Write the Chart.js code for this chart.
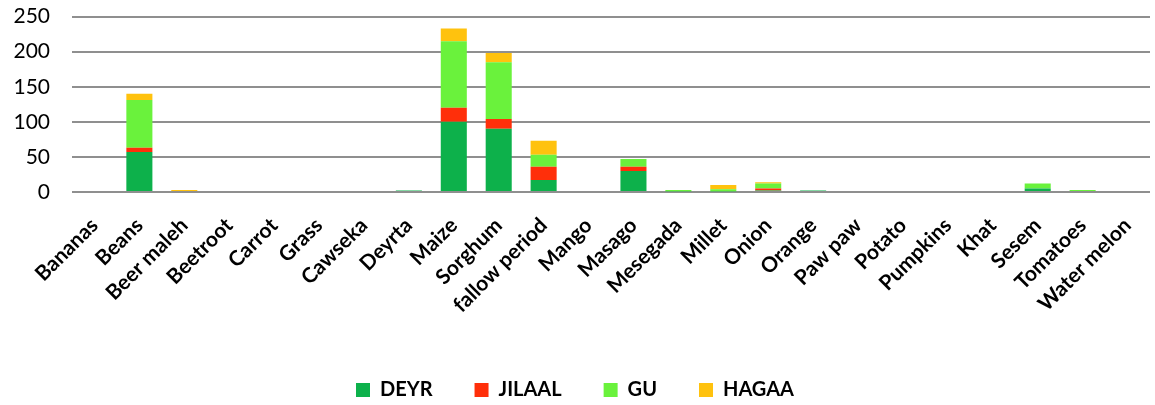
<!DOCTYPE html>
<html>
<head>
<meta charset="utf-8">
<script src="https://cdn.jsdelivr.net/npm/chart.js@4"></script>
<style>
  html, body { margin: 0; padding: 0; background: #ffffff; }
  #wrap { width: 1155px; height: 405px; }
</style>
</head>
<body>
<div id="wrap"><canvas id="chart" width="1155" height="405"></canvas></div>
<script>
// Crops and counts per season
const crops = ["Bananas", "Beans", "Beer maleh", "Beetroot", "Carrot", "Grass", "Cawseka", "Deyrta",
  "Maize", "Sorghum", "fallow period", "Mango", "Masago", "Mesegada", "Millet", "Onion", "Orange",
  "Paw paw", "Potato", "Pumpkins", "Khat", "Sesem", "Tomatoes", "Water melon"];

const deyr   = [0, 57, 0, 0, 0, 0, 0, 2, 100, 90, 17, 0, 30, 1, 1, 2, 2, 0, 0, 0, 0, 5, 0, 0];
const jilaal = [0,  6, 0, 0, 0, 0, 0, 0,  20, 14, 19, 0,  6, 0, 0, 3, 0, 0, 0, 0, 0, 0, 0, 0];
const gu     = [0, 68, 0, 0, 0, 0, 0, 0,  95, 81, 17, 0, 11, 2, 3, 7, 0, 0, 0, 0, 0, 7, 3, 0];
const hagaa  = [0,  9, 3, 0, 0, 0, 0, 0,  18, 13, 20, 0,  0, 0, 6, 2, 0, 0, 0, 0, 0, 0, 0, 0];

const yTicks = [0, 50, 100, 150, 200, 250];

const seasonNames  = ["DEYR", "JILAAL", "GU", "HAGAA"];
const seasonColors = ["#0db14b", "#ff2f0a", "#6af23c", "#ffc20e"];
const seasonData   = [deyr, jilaal, gu, hagaa];

const datasets = seasonNames.map((name, i) => ({
  label: name,
  data: seasonData[i],
  backgroundColor: seasonColors[i],
  borderWidth: 0,
  barPercentage: 0.58,
  categoryPercentage: 1.0
}));

new Chart(document.getElementById("chart"), {
  type: "bar",
  data: { labels: crops, datasets },
  options: {
    responsive: false,
    animation: false,
    devicePixelRatio: 1,
    layout: { padding: { top: 0, right: 5, left: 0, bottom: -5 } },
    plugins: {
      tooltip: { enabled: false },
      legend: {
        position: "bottom",
        labels: {
          boxWidth: 14,
          boxHeight: 14,
          padding: 42,
          color: "#000",
          font: { family: "Lato", size: 20, weight: "bold" }
        }
      }
    },
    scales: {
      x: {
        stacked: true,
        // invisible tick marks keep the label gap without widening the side padding
        grid: { display: false, drawTicks: true, tickLength: 17 },
        border: { display: false },
        ticks: {
          color: "#000",
          autoSkip: false,
          minRotation: 45,
          maxRotation: 45,
          padding: 4,
          font: { family: "Lato", size: 21, weight: "bold" }
        },
        afterFit: (scale) => { scale.height = 146; }
      },
      y: {
        stacked: true,
        min: 0,
        max: 250,
        afterBuildTicks: (scale) => { scale.ticks = yTicks.map(v => ({ value: v })); },
        grid: { color: "#8f8f8f", lineWidth: 2, drawTicks: true, tickLength: 18, tickColor: "rgba(0,0,0,0)" },
        border: { display: false },
        ticks: {
          color: "#000",
          padding: 4,
          font: { family: "Lato", size: 21 }
        },
        afterFit: (scale) => { scale.width = 72; }
      }
    }
  }
});
</script>
</body>
</html>
